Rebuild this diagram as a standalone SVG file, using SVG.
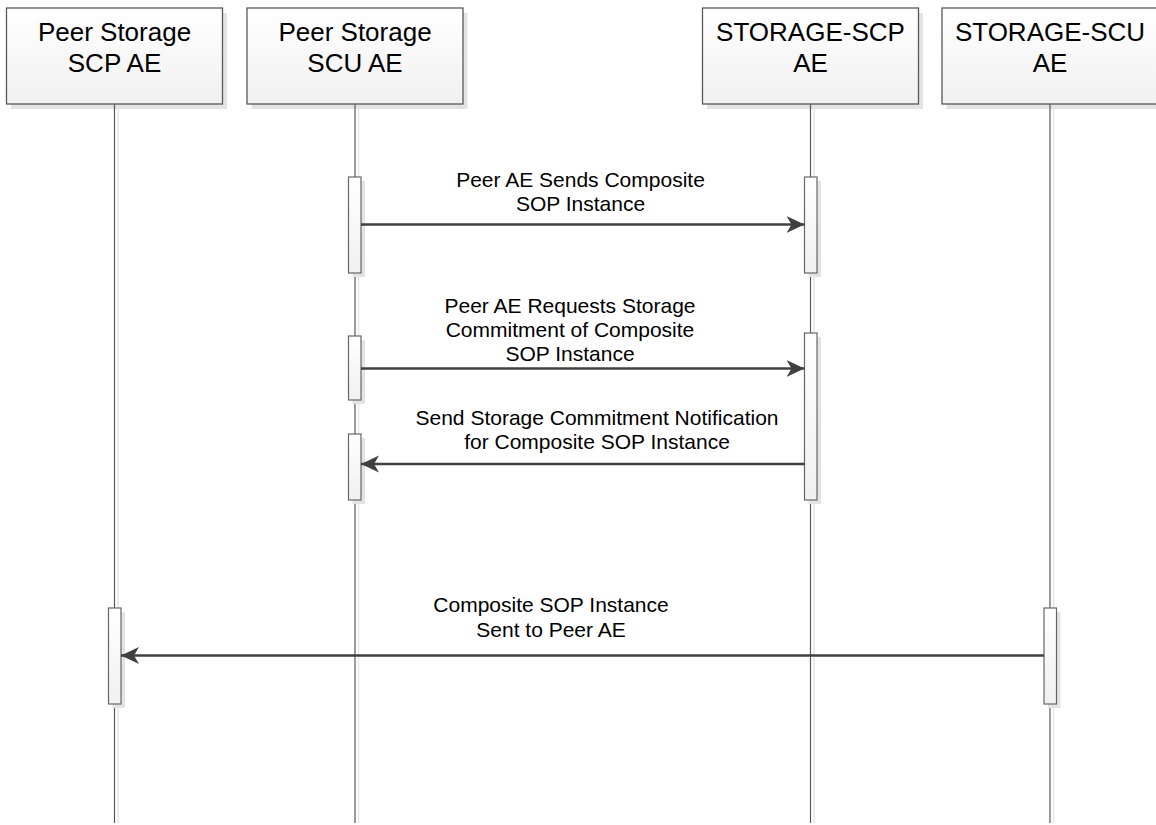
<svg xmlns="http://www.w3.org/2000/svg" width="1156" height="825" viewBox="0 0 1156 825">
<defs>
<linearGradient id="gb" x1="0" y1="0" x2="0" y2="1">
<stop offset="0" stop-color="#ffffff"/>
<stop offset="1" stop-color="#f0f0f0"/>
</linearGradient>
<marker id="ah" markerWidth="20" markerHeight="18" refX="18" refY="8.5" orient="auto" markerUnits="userSpaceOnUse">
<path d="M0,0 L18,8.5 L0,17 L5,8.5 Z" fill="#404040"/>
</marker>
<style>
.box{fill:url(#gb);stroke:#595959;stroke-width:1.3}
.shadow{fill:#e3e3e3;stroke:none}
.ttl{font-family:"Liberation Sans",Arial,sans-serif;font-size:26px;fill:#000;text-anchor:middle}
.life{stroke:#595959;stroke-width:1.2;fill:none}
.lifesh{stroke:#e6e6e6;stroke-width:1.5;fill:none}
.act{fill:url(#gb);stroke:#666;stroke-width:1.2}
.msg{stroke:#404040;stroke-width:2.6;fill:none;marker-end:url(#ah)}
.lbl{font-family:"Liberation Sans",Arial,sans-serif;font-size:21px;fill:#000;text-anchor:middle}
</style>
</defs>
<rect width="1156" height="825" fill="#ffffff"/>

<g id="n1">
<rect class="shadow" x="11" y="13" width="216" height="96"/>
<line class="lifesh" x1="118" y1="109" x2="118" y2="823"/>
<line class="life" x1="114.5" y1="104" x2="114.5" y2="823"/>
<rect class="box" x="6.5" y="8" width="216" height="96"/>
<text class="ttl" x="114.5" y="41">Peer Storage</text>
<text class="ttl" x="114.5" y="72">SCP AE</text>
</g>

<g id="n2">
<rect class="shadow" x="251.5" y="13" width="216" height="96"/>
<line class="lifesh" x1="358.5" y1="109" x2="358.5" y2="823"/>
<line class="life" x1="355" y1="104" x2="355" y2="823"/>
<rect class="box" x="247" y="8" width="216" height="96"/>
<text class="ttl" x="355" y="41">Peer Storage</text>
<text class="ttl" x="355" y="72">SCU AE</text>
</g>

<g id="n3">
<rect class="shadow" x="707" y="13" width="216" height="96"/>
<line class="lifesh" x1="814" y1="109" x2="814" y2="823"/>
<line class="life" x1="810.5" y1="104" x2="810.5" y2="823"/>
<rect class="box" x="702.5" y="8" width="216" height="96"/>
<text class="ttl" x="810.5" y="41">STORAGE-SCP</text>
<text class="ttl" x="810.5" y="72">AE</text>
</g>

<g id="n4">
<rect class="shadow" x="946.5" y="13" width="216" height="96"/>
<line class="lifesh" x1="1053.5" y1="109" x2="1053.5" y2="823"/>
<line class="life" x1="1050" y1="104" x2="1050" y2="823"/>
<rect class="box" x="942" y="8" width="216" height="96"/>
<text class="ttl" x="1050" y="41">STORAGE-SCU</text>
<text class="ttl" x="1050" y="72">AE</text>
</g>

<g id="activations">
<rect class="shadow" x="352.5" y="181" width="12.5" height="96"/>
<rect class="act" x="348.5" y="177" width="12.5" height="96"/>
<rect class="shadow" x="808.5" y="181" width="12.5" height="96"/>
<rect class="act" x="804.5" y="177" width="12.5" height="96"/>
<rect class="shadow" x="352.5" y="340" width="12.5" height="64"/>
<rect class="act" x="348.5" y="336" width="12.5" height="64"/>
<rect class="shadow" x="808.5" y="337" width="12.5" height="167"/>
<rect class="act" x="804.5" y="333" width="12.5" height="167"/>
<rect class="shadow" x="352.5" y="438" width="12.5" height="66"/>
<rect class="act" x="348.5" y="434" width="12.5" height="66"/>
<rect class="shadow" x="112.5" y="612" width="12.5" height="96"/>
<rect class="act" x="108.5" y="608" width="12.5" height="96"/>
<rect class="shadow" x="1048" y="612" width="12.5" height="96"/>
<rect class="act" x="1044" y="608" width="12.5" height="96"/>
</g>

<g id="connectors">
<line class="msg" x1="361" y1="224.5" x2="804.5" y2="224.5"/>
<line class="msg" x1="361" y1="368.5" x2="804.5" y2="368.5"/>
<line class="msg" x1="804.5" y1="464" x2="361" y2="464"/>
<line class="msg" x1="1044" y1="655.5" x2="121" y2="655.5"/>
</g>

<g id="labels">
<text class="lbl" x="580.5" y="187">Peer AE Sends Composite</text>
<text class="lbl" x="580.5" y="211">SOP Instance</text>
<text class="lbl" x="570" y="313">Peer AE Requests Storage</text>
<text class="lbl" x="570" y="337">Commitment of Composite</text>
<text class="lbl" x="570" y="361">SOP Instance</text>
<text class="lbl" x="597" y="425">Send Storage Commitment Notification</text>
<text class="lbl" x="597" y="449">for Composite SOP Instance</text>
<text class="lbl" x="551" y="612">Composite SOP Instance</text>
<text class="lbl" x="551" y="637">Sent to Peer AE</text>
</g>
</svg>
